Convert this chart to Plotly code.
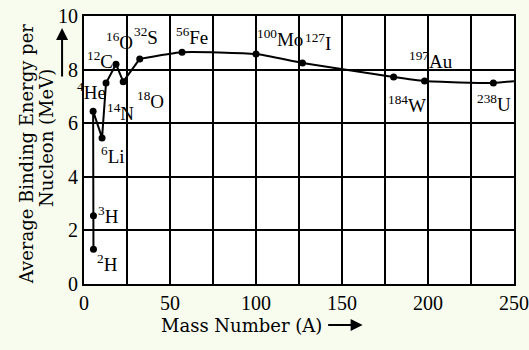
import plotly.graph_objects as go

# Data
mass_number = [5.5, 5.5, 5.3, 10.5, 12.8, 18.6, 22.8, 32.4, 57, 100, 127, 180, 198, 238]
binding_energy = [1.3, 2.55, 6.45, 5.45, 7.5, 8.2, 7.55, 8.4, 8.65, 8.58, 8.25, 7.72, 7.57, 7.5]
curve_end_x = 250
curve_end_y = 7.57
n_light = 8  # points joined by straight segments (up to 32S)

x_ticks = [0, 25, 50, 75, 100, 125, 150, 175, 200, 225, 250]
x_tick_text = ["0", "", "50", "", "100", "", "150", "", "200", "", "250"]
y_ticks = [0, 2, 4, 6, 8, 10]

nuclide_labels = ["<sup>2</sup>H", "<sup>3</sup>H", "<sup>4</sup>He", "<sup>6</sup>Li",
                  "<sup>14</sup>N", "<sup>12</sup>C", "<sup>16</sup>O", "<sup>18</sup>O",
                  "<sup>32</sup>S", "<sup>56</sup>Fe", "<sup>100</sup>Mo", "<sup>127</sup>I",
                  "<sup>197</sup>Au", "<sup>184</sup>W", "<sup>238</sup>U"]
label_x = [13.4, 14.5, 4.1, 16.9, 21.5, 9.3, 20.9, 38.4, 36, 62.8, 114, 136, 202, 188, 238.4]
label_y = [0.78, 2.57, 7.2, 4.81, 6.42, 8.36, 9.07, 6.87, 9.25, 9.25, 9.18, 9.03, 8.36, 6.72, 6.75]

FONT = "Liberation Serif"
TFONT = "DejaVu Serif"

fig = go.Figure()
fig.add_trace(go.Scatter(
    x=mass_number[:n_light], y=binding_energy[:n_light], mode="lines",
    line=dict(color="black", width=2), hoverinfo="skip", showlegend=False))
fig.add_trace(go.Scatter(
    x=mass_number[n_light - 1:] + [curve_end_x], y=binding_energy[n_light - 1:] + [curve_end_y],
    mode="lines", line=dict(color="black", width=2, shape="spline", smoothing=0.5),
    hoverinfo="skip", showlegend=False))
fig.add_trace(go.Scatter(
    x=mass_number, y=binding_energy, mode="markers",
    marker=dict(color="black", size=7), showlegend=False))

annotations = []
for t, lx, ly in zip(nuclide_labels, label_x, label_y):
    annotations.append(dict(x=lx, y=ly, xref="x", yref="y", text=t, showarrow=False,
                            xanchor="center", yanchor="middle",
                            font=dict(family=FONT, size=19, color="black")))

# axis titles
annotations.append(dict(x=0.367, y=-0.153, xref="paper", yref="paper",
                        text="Mass Number (A)", showarrow=False,
                        xanchor="center", yanchor="middle",
                        font=dict(family=TFONT, size=18, color="black")))
annotations.append(dict(x=0.648, y=-0.153, xref="paper", yref="paper", text="",
                        showarrow=True, ax=-36, ay=0, arrowhead=2, arrowsize=1.2,
                        arrowwidth=2, arrowcolor="black"))
annotations.append(dict(x=-0.133, y=0.487, xref="paper", yref="paper",
                        text="Average Binding Energy per", textangle=-90, showarrow=False,
                        xanchor="center", yanchor="middle",
                        font=dict(family=TFONT, size=18, color="black")))
annotations.append(dict(x=-0.086, y=0.545, xref="paper", yref="paper",
                        text="Nucleon (MeV)", textangle=-90, showarrow=False,
                        xanchor="center", yanchor="middle",
                        font=dict(family=TFONT, size=18, color="black")))
annotations.append(dict(x=-0.051, y=0.955, xref="paper", yref="paper", text="",
                        showarrow=True, ax=0, ay=50, arrowhead=2, arrowsize=1.2,
                        arrowwidth=2, arrowcolor="black"))

axis_common = dict(showline=True, linecolor="black", linewidth=2, mirror=True,
                   showgrid=True, gridcolor="black", gridwidth=1.5, zeroline=False,
                   ticks="", automargin=False,
                   tickfont=dict(family=FONT, size=20, color="black"))

fig.update_layout(
    width=529, height=350,
    margin=dict(l=84, r=15, t=16, b=66),
    paper_bgcolor="#f7fcee", plot_bgcolor="white",
    xaxis=dict(range=[0, 250], tickvals=x_ticks, ticktext=x_tick_text, **axis_common),
    yaxis=dict(range=[0, 10], tickvals=y_ticks, **axis_common),
    annotations=annotations,
)

fig.write_html("out.html", config={"displayModeBar": False},
               post_script="document.body.style.margin='0px';")
